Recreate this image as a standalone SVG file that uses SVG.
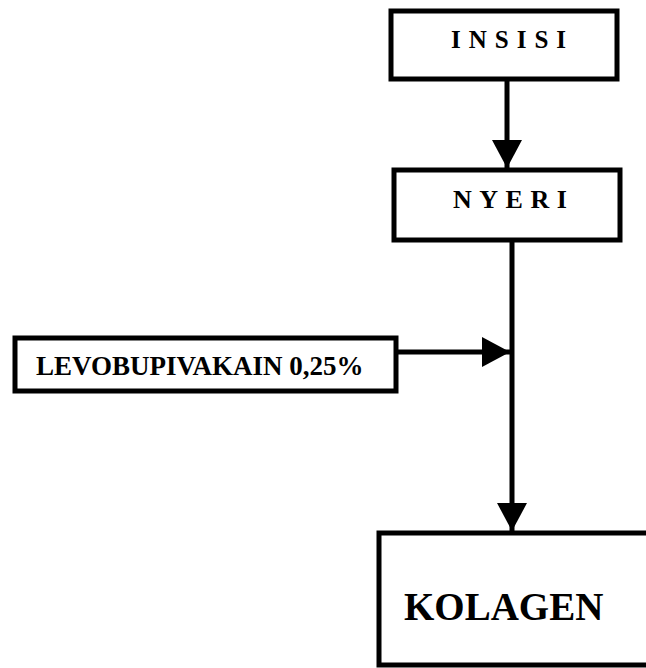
<svg xmlns="http://www.w3.org/2000/svg" width="646" height="668" viewBox="0 0 646 668">
<style>
.box{fill:#fff;stroke:#000;stroke-width:5}
.lbl{font-family:"Liberation Serif","Times New Roman",serif;font-weight:bold;fill:#000}
.conn{stroke:#000;stroke-width:5;fill:none}
</style>
<defs>
<marker id="ah" markerUnits="userSpaceOnUse" markerWidth="30" markerHeight="30" refX="28" refY="15" orient="auto" viewBox="0 0 30 30">
<path d="M0,0 L28,15 L0,30 Z" fill="#000"/>
</marker>
</defs>
<rect x="0" y="0" width="646" height="668" fill="#fff"/>
<g id="connectors">
<line class="conn" x1="507" y1="79" x2="507" y2="168" marker-end="url(#ah)"/>
<line class="conn" x1="512" y1="240" x2="512" y2="531" marker-end="url(#ah)"/>
<line class="conn" x1="396" y1="352" x2="510" y2="352" marker-end="url(#ah)"/>
</g>
<g id="insisi">
<rect class="box" x="391" y="11" width="226" height="68"/>
<text class="lbl" x="451" y="48" font-size="25" letter-spacing="8">INSISI</text>
</g>
<g id="nyeri">
<rect class="box" x="394" y="170" width="226" height="70"/>
<text class="lbl" x="453" y="208" font-size="26" letter-spacing="7.5">NYERI</text>
</g>
<g id="levobupivakain">
<rect class="box" x="15" y="338" width="381" height="53"/>
<text class="lbl" x="36" y="375" font-size="27">LEVOBUPIVAKAIN 0,25%</text>
</g>
<g id="kolagen">
<rect class="box" x="379" y="533" width="300" height="132"/>
<text class="lbl" x="404" y="620" font-size="39">KOLAGEN</text>
</g>
</svg>
